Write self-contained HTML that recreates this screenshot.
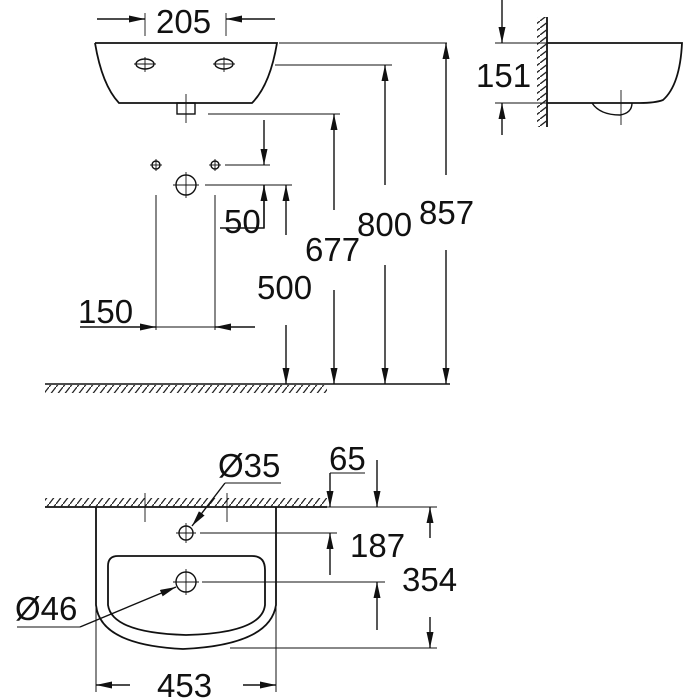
<!DOCTYPE html>
<html><head><meta charset="utf-8"><style>
html,body{margin:0;padding:0;background:#fff;width:700px;height:700px;overflow:hidden}
svg{display:block}
text{font-family:"Liberation Sans",Arial,sans-serif;font-size:33px;fill:#111}
</style></head><body>
<svg width="700" height="700" viewBox="0 0 700 700" xmlns="http://www.w3.org/2000/svg">
<defs>
<marker id="a" viewBox="0 0 16 7" refX="16" refY="3.5" markerWidth="16" markerHeight="7" markerUnits="userSpaceOnUse" orient="auto"><path d="M0,0L16,3.5L0,7Z" fill="#111"/></marker>
<pattern id="h" width="7" height="9" patternUnits="userSpaceOnUse"><path d="M0,9L7,0" stroke="#222" stroke-width="1.3"/></pattern>
<pattern id="hv" width="9" height="7" patternUnits="userSpaceOnUse"><path d="M0,7L9,0" stroke="#222" stroke-width="1.3"/></pattern>
</defs>
<g stroke="#111" stroke-width="1.4" fill="none">
<path d="M95,43H237M95,43Q102,85 119,103H252Q270,85 277,43H237" stroke-width="1.8"/>
<rect x="177" y="103" width="18" height="11"/>
<line x1="186" y1="94" x2="186" y2="123" stroke-width="0.9"/>
<ellipse cx="145" cy="64" rx="9" ry="5"/><line x1="145" y1="57" x2="145" y2="72" stroke-width="0.9"/><line x1="134" y1="64" x2="156" y2="64" stroke-width="0.9"/>
<ellipse cx="224" cy="64" rx="9" ry="5"/><line x1="224" y1="57" x2="224" y2="72" stroke-width="0.9"/><line x1="213" y1="64" x2="235" y2="64" stroke-width="0.9"/>
<line x1="145" y1="13" x2="145" y2="36" stroke-width="0.9"/><line x1="226" y1="13" x2="226" y2="36" stroke-width="0.9"/>
<line x1="97" y1="19" x2="145" y2="19" marker-end="url(#a)"/><line x1="275" y1="19" x2="226" y2="19" marker-end="url(#a)"/>
<line x1="279" y1="43" x2="447" y2="43" stroke-width="1"/>
<line x1="275" y1="65" x2="392" y2="65" stroke-width="1"/>
<line x1="208" y1="114" x2="340" y2="114" stroke-width="1"/>
<line x1="446" y1="175" x2="446" y2="43" marker-end="url(#a)"/><line x1="446" y1="250" x2="446" y2="384" marker-end="url(#a)"/>
<line x1="385" y1="185" x2="385" y2="65" marker-end="url(#a)"/><line x1="385" y1="265" x2="385" y2="384" marker-end="url(#a)"/>
<line x1="334" y1="210" x2="334" y2="114" marker-end="url(#a)"/><line x1="334" y1="290" x2="334" y2="384" marker-end="url(#a)"/>
<line x1="286" y1="235" x2="286" y2="185" marker-end="url(#a)"/><line x1="286" y1="325" x2="286" y2="384" marker-end="url(#a)"/>
<circle cx="156" cy="165" r="4"/><line x1="150" y1="165" x2="162" y2="165" stroke-width="0.9"/><line x1="156" y1="159" x2="156" y2="171" stroke-width="0.9"/>
<circle cx="215" cy="165" r="4"/><line x1="209" y1="165" x2="221" y2="165" stroke-width="0.9"/><line x1="215" y1="159" x2="215" y2="171" stroke-width="0.9"/>
<circle cx="186" cy="185" r="10"/><line x1="173" y1="185" x2="199" y2="185" stroke-width="0.9"/><line x1="186" y1="172" x2="186" y2="198" stroke-width="0.9"/>
<line x1="225" y1="165" x2="270" y2="165" stroke-width="1"/>
<line x1="205" y1="185" x2="292" y2="185" stroke-width="1"/>
<line x1="264" y1="120" x2="264" y2="165" marker-end="url(#a)"/>
<path d="M220,228H264V185"/><line x1="264" y1="228" x2="264" y2="185" marker-end="url(#a)"/>
<line x1="156" y1="195" x2="156" y2="330" stroke-width="1"/><line x1="215" y1="195" x2="215" y2="330" stroke-width="1"/>
<line x1="80" y1="327" x2="156" y2="327" marker-end="url(#a)"/><line x1="255" y1="327" x2="215" y2="327" marker-end="url(#a)"/>
<line x1="156" y1="327" x2="215" y2="327" stroke-width="1"/>
<line x1="45" y1="384" x2="450" y2="384" stroke-width="1.5"/>
<rect x="45" y="385" width="282" height="8" fill="url(#h)" stroke="none"/>
<line x1="547" y1="17" x2="547" y2="127" stroke-width="1.8"/>
<rect x="537" y="17" width="10" height="110" fill="url(#hv)" stroke="none"/>
<path d="M547,43H682Q680,85 663,100Q655,103 640,103H547" stroke-width="1.8"/>
<path d="M592,103Q600,115 620,115Q632,113 632,103"/>
<line x1="621" y1="90" x2="621" y2="125" stroke-width="0.9"/>
<line x1="495" y1="43" x2="547" y2="43" stroke-width="1"/><line x1="495" y1="103" x2="547" y2="103" stroke-width="1"/>
<line x1="502" y1="0" x2="502" y2="43" marker-end="url(#a)"/><line x1="502" y1="135" x2="502" y2="103" marker-end="url(#a)"/>
<line x1="45" y1="507" x2="327" y2="507" stroke-width="1.8"/>
<rect x="45" y="498" width="282" height="9" fill="url(#h)" stroke="none"/>
<line x1="327" y1="507" x2="437" y2="507" stroke-width="1"/>
<line x1="145" y1="493" x2="145" y2="522" stroke-width="0.9"/><line x1="227" y1="493" x2="227" y2="522" stroke-width="0.9"/>
<path d="M96,507V605Q100,645 183,649Q270,645 276,605V507" stroke-width="1.8"/>
<line x1="96" y1="605" x2="96" y2="692" stroke-width="1"/><line x1="276" y1="605" x2="276" y2="692" stroke-width="1"/>
<path d="M118,556H252Q265,556 265,570V605Q262,633 186,635Q112,633 108,605V566Q108,556 118,556Z" stroke-width="1.8"/>
<circle cx="186" cy="533" r="7"/><line x1="176" y1="533" x2="196" y2="533" stroke-width="0.9"/><line x1="186" y1="523" x2="186" y2="543" stroke-width="0.9"/>
<circle cx="186" cy="582" r="10"/><line x1="173" y1="582" x2="199" y2="582" stroke-width="0.9"/><line x1="186" y1="569" x2="186" y2="595" stroke-width="0.9"/>
<line x1="200" y1="533" x2="337" y2="533" stroke-width="1"/>
<line x1="202" y1="582" x2="385" y2="582" stroke-width="1"/>
<line x1="230" y1="648" x2="437" y2="648" stroke-width="1"/>
<line x1="281" y1="483" x2="225" y2="483" stroke-width="1"/><line x1="225" y1="483" x2="192" y2="526" marker-end="url(#a)"/>
<line x1="17" y1="627" x2="80" y2="627" stroke-width="1"/><line x1="80" y1="627" x2="176" y2="587" marker-end="url(#a)"/>
<line x1="330" y1="473" x2="365" y2="473" stroke-width="1"/>
<line x1="330" y1="473" x2="330" y2="507" marker-end="url(#a)"/>
<line x1="377" y1="460" x2="377" y2="507" marker-end="url(#a)"/>
<line x1="330" y1="575" x2="330" y2="533" marker-end="url(#a)"/>
<line x1="377" y1="630" x2="377" y2="582" marker-end="url(#a)"/>
<line x1="430" y1="538" x2="430" y2="507" marker-end="url(#a)"/>
<line x1="430" y1="617" x2="430" y2="648" marker-end="url(#a)"/>
<line x1="130" y1="685" x2="96" y2="685" marker-end="url(#a)"/>
<line x1="243" y1="685" x2="276" y2="685" marker-end="url(#a)"/>
</g>
<g stroke="none">
<text x="156" y="33">205</text>
<text x="419" y="224">857</text>
<text x="357" y="236">800</text>
<text x="305" y="261">677</text>
<text x="257" y="299">500</text>
<text x="224" y="233">50</text>
<text x="78" y="323">150</text>
<text x="476" y="87">151</text>
<text x="218" y="477">Ø35</text>
<text x="15" y="620">Ø46</text>
<text x="329" y="470">65</text>
<text x="350" y="557">187</text>
<text x="402" y="591">354</text>
<text x="157" y="697">453</text>
</g>
</svg>
</body></html>
